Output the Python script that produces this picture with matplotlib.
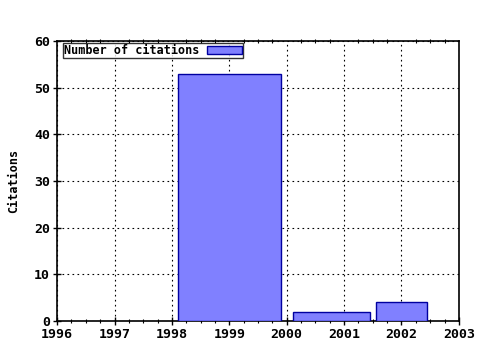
import matplotlib
matplotlib.use("Agg")
import matplotlib.pyplot as plt
from matplotlib.ticker import MultipleLocator

# bars as (left edge, right edge) in years, with citation counts
bar_left = [1998.1, 2000.11, 2001.56]
bar_right = [1999.9, 2001.46, 2002.45]
citations = [53, 2, 4]
year_ticks = [1996, 1997, 1998, 1999, 2000, 2001, 2002, 2003]
y_ticks = [0, 10, 20, 30, 40, 50, 60]

plt.rcParams['font.family'] = 'DejaVu Sans Mono'
plt.rcParams['font.weight'] = 'bold'
plt.rcParams['font.size'] = 9.5

fig = plt.figure(figsize=(4.8, 3.5), dpi=100)
ax = fig.add_axes([0.119, 0.083, 0.837, 0.8])

widths = [r - l for l, r in zip(bar_left, bar_right)]
ax.bar(bar_left, citations, width=widths, align='edge', color='#8080ff',
       edgecolor='#0000a0', linewidth=1, label='Number of citations', zorder=3)

ax.set_xlim(1996, 2003)
ax.set_ylim(0, 60)
ax.set_xticks(year_ticks)
ax.set_yticks(y_ticks)
ax.xaxis.set_minor_locator(MultipleLocator(0.25))
ax.grid(True, which='major', color='black', linestyle=(0, (1.5, 3)), linewidth=0.8, zorder=0)
ax.tick_params(which='major', direction='inout', length=6, width=1, pad=2)
ax.tick_params(which='minor', direction='inout', length=3, width=0.8, top=True)
ax.set_ylabel('Citations', fontsize=8.5, fontweight='bold', labelpad=10)
for s in ax.spines.values():
    s.set_linewidth(1.2)

leg = ax.legend(loc='upper left', bbox_to_anchor=(0.015, 0.993), fontsize=8.5,
                frameon=True, fancybox=False, edgecolor='black', borderpad=0.1,
                handlelength=3.0, handleheight=0.6, handletextpad=0.6,
                markerfirst=False, borderaxespad=0.0)
leg.get_frame().set_linewidth(1)

fig.savefig('out.png', dpi=100)
